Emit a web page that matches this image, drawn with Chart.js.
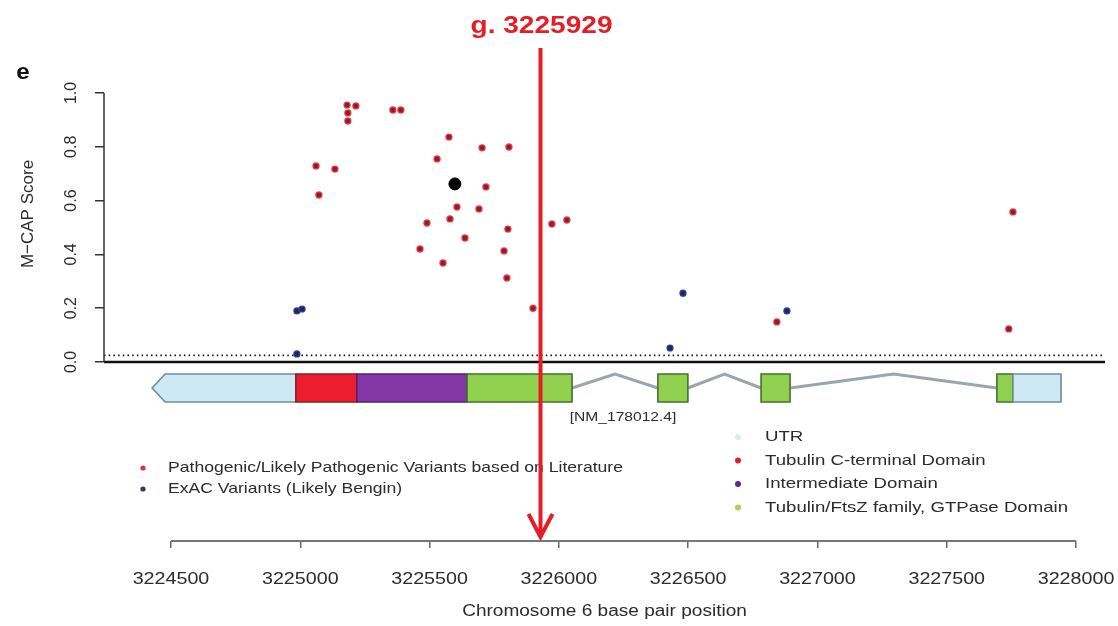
<!DOCTYPE html>
<html>
<head>
<meta charset="utf-8">
<title>M-CAP scores along TUBB2B</title>
<script src="https://cdn.jsdelivr.net/npm/chart.js@4.4.1/dist/chart.umd.min.js"></script>
<style>
  html, body { margin: 0; padding: 0; background: #fff; }
  #wrap { width: 1118px; height: 626px; }
</style>
</head>
<body>
<div id="wrap"><canvas id="mcap-canvas"></canvas></div>
<script>
// --- values ---
const pathogenicPos = [3225181, 3225215, 3225184, 3225184, 3225358, 3225389, 3225575, 3225529,
                       3225061, 3225134, 3225072, 3225703, 3225807, 3225718, 3225606, 3225691,
                       3225579, 3225490, 3225803, 3225637, 3225463, 3225788, 3225552, 3225799,
                       3225973, 3226031, 3225900, 3226843, 3227756, 3227740];
const pathogenicScore = [0.955, 0.952, 0.926, 0.896, 0.937, 0.937, 0.836, 0.755,
                         0.729, 0.717, 0.621, 0.796, 0.799, 0.651, 0.576, 0.569,
                         0.532, 0.517, 0.494, 0.461, 0.420, 0.413, 0.368, 0.312,
                         0.513, 0.528, 0.200, 0.149, 0.558, 0.123];

const exacPos = [3224987, 3225007, 3224987, 3226480, 3226430, 3226882];
const exacScore = [0.190, 0.197, 0.030, 0.256, 0.052, 0.190];

const highlightPos = [3225598];
const highlightScore = [0.662];

const xTicks = [3224500, 3225000, 3225500, 3226000, 3226500, 3227000, 3227500, 3228000];
const yTicks = [0.0, 0.2, 0.4, 0.6, 0.8, 1.0];

const THRESHOLD = 0.025;          // M-CAP pathogenicity cut-off
const VARIANT_POS = 3225929;
const VARIANT_LABEL = 'g. 3225929';
const TRANSCRIPT = '[NM_178012.4]';

// transcript exons (bp)
const exonStart = [3224427, 3226383, 3226782, 3227694];
const exonEnd   = [3226051, 3226499, 3226894, 3227942];

// coloured pieces inside the exons
const segStart = [3224427, 3224983, 3225219, 3225645, 3226383, 3226782, 3227694, 3227756];
const segEnd   = [3224983, 3225219, 3225645, 3226051, 3226499, 3226894, 3227756, 3227942];
const segKind  = ['utr', 'cterm', 'inter', 'gtpase', 'gtpase', 'gtpase', 'gtpase', 'utr'];

const variantLegend = ['Pathogenic/Likely Pathogenic Variants based on Literature',
                       'ExAC Variants (Likely Bengin)'];
const domainLegend = ['UTR', 'Tubulin C-terminal Domain', 'Intermediate Domain',
                      'Tubulin/FtsZ family, GTPase Domain'];
const domainLegendKind = ['utr', 'cterm', 'inter', 'gtpase'];

// --- styling ---
const FONT = '"Liberation Sans", Arial, sans-serif';
const TEXT = '#2b2b2b';
const RED = '#e41e26';
const segFill   = { utr: '#cfe8f6', cterm: '#ed1c2e', inter: '#8437a6', gtpase: '#92d14f' };
const segStroke = { utr: '#6c8d96', cterm: '#7a2626', inter: '#4c2666', gtpase: '#46702e' };
const legendDot = { utr: '#d9ecf3', cterm: '#e0202e', inter: '#5b2a8e', gtpase: '#a6cf62' };

const X_MIN = 3224241, X_MAX = 3228112;
const Y_MIN = -0.6654, Y_MAX = 1.197;

function seg(ctx, x1, y1, x2, y2) {
    ctx.beginPath();
    ctx.moveTo(x1, y1);
    ctx.lineTo(x2, y2);
    ctx.stroke();
}

// the source figure is stretched sideways, so text gets a horizontal scale
function wideText(ctx, text, x, y, sx, align) {
    ctx.save();
    ctx.translate(x, y);
    ctx.scale(sx, 1);
    ctx.textAlign = align;
    ctx.fillText(text, 0, 0);
    ctx.restore();
}

const figurePlugin = {
    id: 'figure',
    beforeDatasetsDraw(chart) {
        const { ctx, chartArea: a, scales: { x, y } } = chart;
        ctx.save();

        // threshold (dotted) and zero line
        ctx.strokeStyle = '#111';
        ctx.lineWidth = 1.8;
        ctx.setLineDash([1.5, 3.2]);
        seg(ctx, a.left, y.getPixelForValue(THRESHOLD), a.right, y.getPixelForValue(THRESHOLD));
        ctx.setLineDash([]);
        ctx.lineWidth = 2.6;
        seg(ctx, a.left, y.getPixelForValue(0), a.right, y.getPixelForValue(0));

        // left axis only spans 0..1
        ctx.lineWidth = 1.5;
        ctx.strokeStyle = '#333';
        seg(ctx, a.left, y.getPixelForValue(0), a.left, y.getPixelForValue(1));

        // gene model
        const top = 374, bot = 402, mid = (top + bot) / 2;
        ctx.strokeStyle = '#9aa6ad';
        ctx.lineWidth = 3;
        for (let i = 0; i < exonStart.length - 1; i++) {
            const x1 = x.getPixelForValue(exonEnd[i]);
            const x2 = x.getPixelForValue(exonStart[i + 1]);
            ctx.beginPath();
            ctx.moveTo(x1, mid);
            ctx.lineTo((x1 + x2) / 2, top);
            ctx.lineTo(x2, mid);
            ctx.stroke();
        }
        ctx.lineWidth = 1.6;
        segStart.forEach((s, i) => {
            const x1 = x.getPixelForValue(s);
            const x2 = x.getPixelForValue(segEnd[i]);
            ctx.fillStyle = segFill[segKind[i]];
            ctx.strokeStyle = segStroke[segKind[i]];
            ctx.beginPath();
            if (i === 0) {
                // strand arrow on the first UTR
                ctx.moveTo(x1, mid);
                ctx.lineTo(x1 + 13, top);
                ctx.lineTo(x2, top);
                ctx.lineTo(x2, bot);
                ctx.lineTo(x1 + 13, bot);
                ctx.closePath();
            } else {
                ctx.rect(x1, top, x2 - x1, bot - top);
            }
            ctx.fill();
            ctx.stroke();
        });
        ctx.fillStyle = TEXT;
        ctx.font = '13px ' + FONT;
        ctx.textBaseline = 'middle';
        wideText(ctx, TRANSCRIPT, x.getPixelForValue(exonEnd[0]) + 51, 417, 1.2, 'center');

        // lower position axis line between first and last tick
        ctx.strokeStyle = '#777';
        ctx.lineWidth = 2;
        seg(ctx, x.getPixelForValue(xTicks[0]), a.bottom, x.getPixelForValue(xTicks[xTicks.length - 1]), a.bottom);

        // position tick labels and axis title
        ctx.fillStyle = TEXT;
        ctx.font = '16px ' + FONT;
        xTicks.forEach(v => wideText(ctx, String(v), x.getPixelForValue(v), 580, 1.23, 'center'));
        wideText(ctx, 'Chromosome 6 base pair position', (a.left + a.right) / 2, 612, 1.19, 'center');

        ctx.restore();
    },
    afterDraw(chart) {
        const { ctx, scales: { x } } = chart;
        ctx.save();
        ctx.textBaseline = 'middle';

        // legends, each block stretched to the width it has in the figure
        ctx.font = '15px ' + FONT;
        const varColors = ['#cf3a44', '#24454c'];
        const sxLeft = 455 / ctx.measureText(variantLegend[0]).width;
        variantLegend.forEach((t, i) => {
            const yy = 468 + i * 21;
            ctx.fillStyle = varColors[i];
            ctx.beginPath(); ctx.arc(143, yy, 2.6, 0, Math.PI * 2); ctx.fill();
            ctx.fillStyle = TEXT;
            wideText(ctx, t, 168, yy, sxLeft, 'left');
        });
        const sxRight = 303 / ctx.measureText(domainLegend[3]).width;
        domainLegend.forEach((t, i) => {
            const yy = 437 + i * 23.5;
            ctx.fillStyle = legendDot[domainLegendKind[i]];
            ctx.beginPath(); ctx.arc(738, yy, 3, 0, Math.PI * 2); ctx.fill();
            ctx.fillStyle = TEXT;
            wideText(ctx, t, 765, yy, sxRight, 'left');
        });

        // y title and panel letter
        ctx.save();
        ctx.translate(28, 214);
        ctx.rotate(-Math.PI / 2);
        ctx.textAlign = 'center';
        ctx.font = '17px ' + FONT;
        ctx.fillText('M\u2212CAP Score', 0, 0);
        ctx.restore();
        ctx.font = 'bold 22px ' + FONT;
        ctx.fillStyle = '#111';
        wideText(ctx, 'e', 23, 73, 1.1, 'center');

        // marked variant
        const vx = x.getPixelForValue(VARIANT_POS);
        ctx.strokeStyle = RED;
        ctx.lineWidth = 4;
        seg(ctx, vx, 48, vx, 535);
        ctx.lineJoin = 'miter';
        ctx.beginPath();
        ctx.moveTo(vx - 12, 514);
        ctx.lineTo(vx, 537);
        ctx.lineTo(vx + 12, 514);
        ctx.stroke();
        ctx.fillStyle = RED;
        ctx.font = 'bold 23px ' + FONT;
        wideText(ctx, VARIANT_LABEL, vx + 1, 27, 1.22, 'center');

        ctx.restore();
    }
};

new Chart(document.getElementById('mcap-canvas'), {
    type: 'scatter',
    data: {
        datasets: [
            {
                label: 'highlight',
                data: highlightPos.map((p, i) => ({ x: p, y: highlightScore[i] })),
                pointRadius: 6,
                backgroundColor: '#050505',
                borderColor: '#050505',
                order: 0
            },
            {
                label: 'ExAC',
                data: exacPos.map((p, i) => ({ x: p, y: exacScore[i] })),
                pointRadius: 3,
                backgroundColor: '#1f2a55',
                borderColor: '#2c3e96',
                borderWidth: 1.2,
                order: 1
            },
            {
                label: 'Pathogenic',
                data: pathogenicPos.map((p, i) => ({ x: p, y: pathogenicScore[i] })),
                pointRadius: 3,
                backgroundColor: '#86202e',
                borderColor: 'rgba(232,52,60,0.9)',
                borderWidth: 1.4,
                order: 2
            }
        ]
    },
    options: {
        responsive: true,
        maintainAspectRatio: false,
        animation: false,
        events: [],
        layout: { padding: { left: 10, right: 13, top: 40, bottom: 0 } },
        plugins: { legend: { display: false }, tooltip: { enabled: false } },
        scales: {
            x: {
                type: 'linear',
                min: X_MIN,
                max: X_MAX,
                afterBuildTicks: s => { s.ticks = xTicks.map(v => ({ value: v })); },
                afterFit: s => { s.height = 85; s.paddingLeft = 0; s.paddingRight = 0; },
                border: { display: false },
                grid: { drawOnChartArea: false, tickLength: 7, color: '#666', lineWidth: 1.5 },
                ticks: { display: false }
            },
            y: {
                type: 'linear',
                min: Y_MIN,
                max: Y_MAX,
                afterBuildTicks: s => { s.ticks = yTicks.map(v => ({ value: v })); },
                afterFit: s => { s.width = 94; s.paddingTop = 0; s.paddingBottom = 0; },
                border: { display: false },
                grid: { drawOnChartArea: false, tickLength: 9, color: '#333', lineWidth: 1.5 },
                ticks: {
                    autoSkip: false, minRotation: 90, maxRotation: 90, crossAlign: 'center',
                    padding: 12, color: TEXT, font: { family: FONT, size: 16 },
                    callback: v => v.toFixed(1)
                }
            }
        }
    },
    plugins: [figurePlugin]
});
</script>
</body>
</html>
